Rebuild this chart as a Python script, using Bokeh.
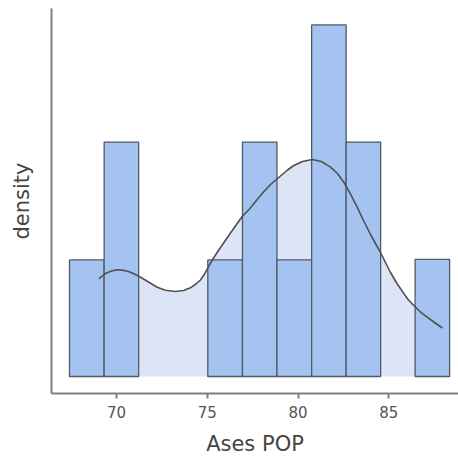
from bokeh.plotting import figure
from bokeh.models import Range1d, FixedTicker
from bokeh.embed import file_html
from bokeh.resources import INLINE

# Histogram bins (Ases POP) and counts
bin_edges = [67.41, 69.32, 71.22, 73.13, 75.03, 76.94, 78.84, 80.75, 82.65, 84.55, 86.45, 88.35]
counts = [1, 2, 0, 0, 1, 2, 1, 3, 2, 0, 1]
n_obs = 13

# KDE curve (density)
kde_x = [69.025, 69.229, 69.449, 69.725, 70.039, 70.331, 70.661, 70.992, 71.322, 71.763,
         72.242, 72.699, 73.250, 73.691, 74.076, 74.407, 74.627, 74.848, 75.068, 75.399,
         75.729, 76.280, 76.924, 77.327, 77.751, 78.098, 78.483, 79.034, 79.420, 79.767,
         80.246, 80.781, 81.293, 81.789, 82.174, 82.521, 82.890, 83.259, 83.607, 83.992,
         84.543, 85.094, 85.452, 85.826, 86.085, 86.377, 86.746, 87.115, 87.517, 87.958]
kde_y = [0.03368, 0.03479, 0.03576, 0.03645, 0.03686, 0.03676, 0.03627, 0.03541, 0.03431, 0.03265,
         0.03085, 0.02978, 0.02937, 0.02971, 0.03064, 0.03213, 0.03334, 0.03541, 0.03800, 0.04146,
         0.04457, 0.04958, 0.05528, 0.05787, 0.06115, 0.06374, 0.06633, 0.06927, 0.07134, 0.07289,
         0.07428, 0.07497, 0.07428, 0.07231, 0.07013, 0.06712, 0.06305, 0.05849, 0.05389, 0.04906,
         0.04284, 0.03593, 0.03213, 0.02867, 0.02643, 0.02453, 0.02228, 0.02049, 0.01866, 0.01676]

x_ticks = [70, 75, 80, 85]

left = bin_edges[:-1]
right = bin_edges[1:]
widths = [r - l for l, r in zip(left, right)]
dens = [c / (n_obs * w) for c, w in zip(counts, widths)]
bl = [l for l, c in zip(left, counts) if c > 0]
br = [r for r, c in zip(right, counts) if c > 0]
bt = [d for d, c in zip(dens, counts) if c > 0]

p = figure(width=458, height=460, output_backend="svg", toolbar_location=None,
           x_range=Range1d(66.42, 88.84), y_range=Range1d(-0.00587, 0.12713),
           min_border_left=51, min_border_right=0, min_border_top=8, min_border_bottom=67)
p.outline_line_color = None
p.xgrid.grid_line_color = None
p.ygrid.grid_line_color = None
p.background_fill_color = "white"

p.varea(x=kde_x, y1=[0] * len(kde_x), y2=kde_y, fill_color="#dbe5f6")
p.quad(left=bl, right=br, bottom=0, top=bt, fill_color="#a4c3f1",
       line_color="#505a66", line_width=1.3)
p.line(kde_x, kde_y, line_color="#505050", line_width=1.6, line_join="round")

p.xaxis.ticker = FixedTicker(ticks=x_ticks)
p.xaxis.axis_label = "Ases POP"
p.yaxis.axis_label = "density"
p.yaxis.ticker = FixedTicker(ticks=[])
p.xaxis.minor_tick_line_color = None
p.yaxis.minor_tick_line_color = None
for ax in (p.xaxis, p.yaxis):
    ax.axis_line_color = "#808080"
    ax.axis_line_width = 2
    ax.major_tick_line_color = "#808080"
    ax.major_tick_line_width = 2
    ax.major_tick_out = 5
    ax.major_tick_in = 0
    ax.axis_label_text_font = "DejaVu Sans"
    ax.axis_label_text_font_style = "normal"
    ax.axis_label_text_font_size = "21px"
    ax.axis_label_text_color = "#444444"
    ax.major_label_text_font = "DejaVu Sans"
    ax.major_label_text_font_size = "15px"
    ax.major_label_text_color = "#555555"
p.yaxis.major_tick_line_color = None
p.yaxis.major_label_text_font_size = "0px"
p.xaxis.major_label_standoff = 7
p.xaxis.axis_label_standoff = 11
p.yaxis.axis_label_standoff = 18

open("out.html", "w").write(file_html(p, INLINE))
